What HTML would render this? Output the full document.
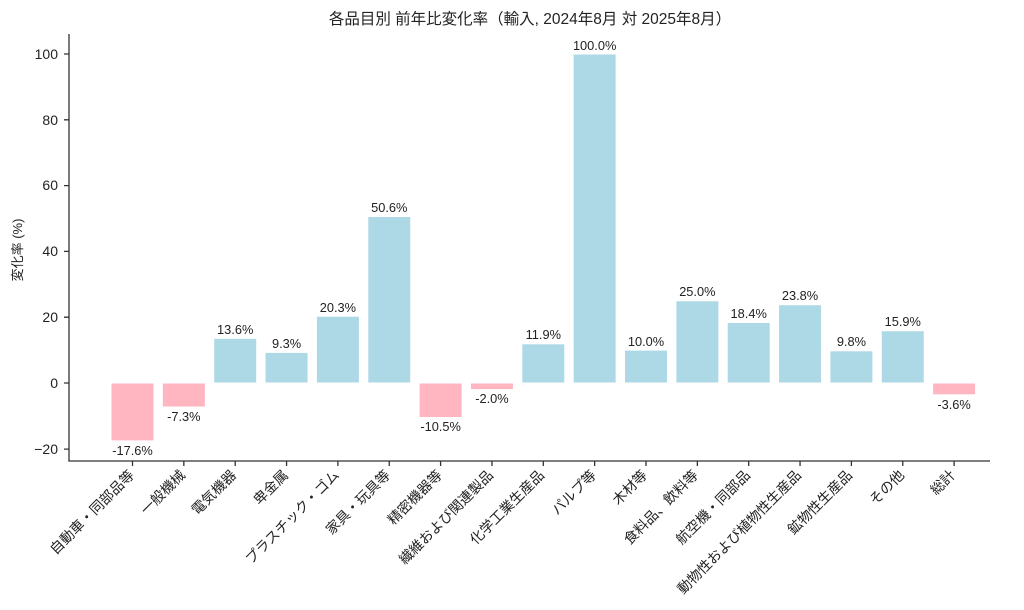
<!DOCTYPE html>
<html><head><meta charset="utf-8"><style>body{margin:0;background:#fff}svg{display:block;font-family:"Liberation Sans","Noto Sans CJK JP",sans-serif}</style></head>
<body>
<svg width="1024" height="610" xmlns="http://www.w3.org/2000/svg">
<text x="530" y="24" text-anchor="middle" font-size="15.5" fill="#222">各品目別 前年比変化率（輸入, 2024年8月 対 2025年8月）</text>
<text transform="translate(22,250) rotate(-90)" text-anchor="middle" font-size="13" fill="#222">変化率 (%)</text>
<g stroke="#fff" stroke-width="1">
<rect x="111" y="383" width="43" height="57.9" fill="#ffb6c1"/>
<rect x="162.35" y="383" width="43" height="24" fill="#ffb6c1"/>
<rect x="213.7" y="338.3" width="43" height="44.7" fill="#add8e6"/>
<rect x="265.05" y="352.4" width="43" height="30.6" fill="#add8e6"/>
<rect x="316.4" y="316.2" width="43" height="66.8" fill="#add8e6"/>
<rect x="367.75" y="216.5" width="43" height="166.5" fill="#add8e6"/>
<rect x="419.1" y="383" width="43" height="34.5" fill="#ffb6c1"/>
<rect x="470.45" y="383" width="43" height="6.6" fill="#ffb6c1"/>
<rect x="521.8" y="343.8" width="43" height="39.2" fill="#add8e6"/>
<rect x="573.15" y="54" width="43" height="329" fill="#add8e6"/>
<rect x="624.5" y="350.1" width="43" height="32.9" fill="#add8e6"/>
<rect x="675.85" y="300.75" width="43" height="82.25" fill="#add8e6"/>
<rect x="727.2" y="322.5" width="43" height="60.5" fill="#add8e6"/>
<rect x="778.55" y="304.7" width="43" height="78.3" fill="#add8e6"/>
<rect x="829.9" y="350.8" width="43" height="32.2" fill="#add8e6"/>
<rect x="881.25" y="330.7" width="43" height="52.3" fill="#add8e6"/>
<rect x="932.6" y="383" width="43" height="11.8" fill="#ffb6c1"/>
</g>
<g font-size="12.8" fill="#222" text-anchor="middle">
<text x="132.5" y="455">-17.6%</text>
<text x="183.85" y="421">-7.3%</text>
<text x="235.2" y="334">13.6%</text>
<text x="286.55" y="348">9.3%</text>
<text x="337.9" y="312">20.3%</text>
<text x="389.25" y="212">50.6%</text>
<text x="440.6" y="431">-10.5%</text>
<text x="491.95" y="403">-2.0%</text>
<text x="543.3" y="339">11.9%</text>
<text x="594.65" y="50">100.0%</text>
<text x="646" y="346">10.0%</text>
<text x="697.35" y="296">25.0%</text>
<text x="748.7" y="318">18.4%</text>
<text x="800.05" y="300">23.8%</text>
<text x="851.4" y="346">9.8%</text>
<text x="902.75" y="326">15.9%</text>
<text x="954.1" y="409">-3.6%</text>
</g>
<g stroke="#333" stroke-width="1.3" fill="none">
<line x1="69" y1="34" x2="69" y2="461.5"/>
<line x1="68.4" y1="461" x2="990" y2="461"/>
<path d="M64 449.1H69M64 383H69M64 317.2H69M64 251.4H69M64 185.6H69M64 119.8H69M64 54H69"/>
<path d="M132.5 461v5M183.85 461v5M235.2 461v5M286.55 461v5M337.9 461v5M389.25 461v5M440.6 461v5M491.95 461v5M543.3 461v5M594.65 461v5M646 461v5M697.35 461v5M748.7 461v5M800.05 461v5M851.4 461v5M902.75 461v5M954.1 461v5"/>
</g>
<g font-size="14" fill="#222" text-anchor="end">
<text x="58" y="454">−20</text>
<text x="58" y="388">0</text>
<text x="58" y="322">20</text>
<text x="58" y="256">40</text>
<text x="58" y="190">60</text>
<text x="58" y="125">80</text>
<text x="58" y="59">100</text>
</g>
<g font-size="14" fill="#222" text-anchor="end">
<text transform="translate(135,476) rotate(-45)">自動車・同部品等</text>
<text transform="translate(186,476) rotate(-45)">一般機械</text>
<text transform="translate(237,476) rotate(-45)">電気機器</text>
<text transform="translate(289,476) rotate(-45)">卑金属</text>
<text transform="translate(340,476) rotate(-45)">プラスチック・ゴム</text>
<text transform="translate(391,476) rotate(-45)">家具・玩具等</text>
<text transform="translate(443,476) rotate(-45)">精密機器等</text>
<text transform="translate(494,476) rotate(-45)">繊維および関連製品</text>
<text transform="translate(545,476) rotate(-45)">化学工業生産品</text>
<text transform="translate(597,476) rotate(-45)">パルプ等</text>
<text transform="translate(648,476) rotate(-45)">木材等</text>
<text transform="translate(699,476) rotate(-45)">食料品、飲料等</text>
<text transform="translate(751,476) rotate(-45)">航空機・同部品</text>
<text transform="translate(802,476) rotate(-45)">動物性および植物性生産品</text>
<text transform="translate(853,476) rotate(-45)">鉱物性生産品</text>
<text transform="translate(905,476) rotate(-45)">その他</text>
<text transform="translate(956,476) rotate(-45)">総計</text>
</g>
</svg>
</body></html>
